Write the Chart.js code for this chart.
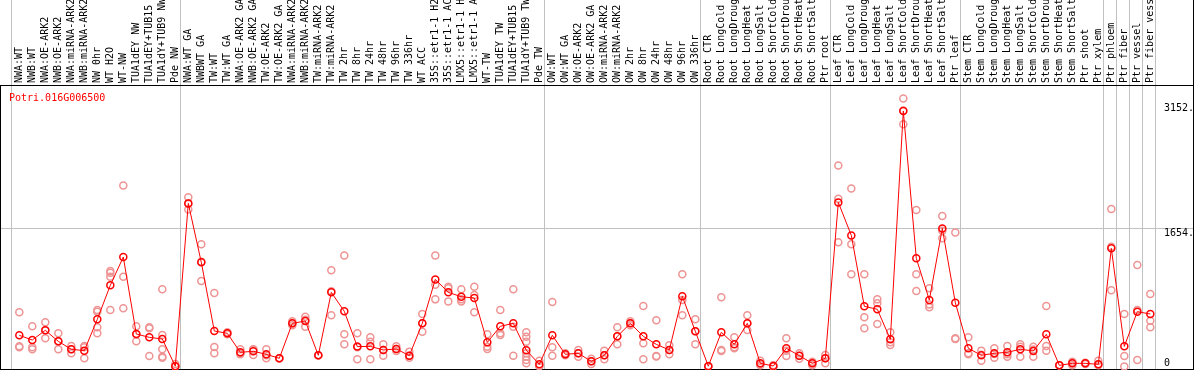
<!DOCTYPE html>
<html>
<head>
<meta charset="utf-8">
<script src="https://cdn.jsdelivr.net/npm/chart.js@4.4.0/dist/chart.umd.min.js"></script>
<style>
  html, body { margin: 0; padding: 0; background: #fff; }
  canvas { display: block; }
</style>
</head>
<body>
<canvas id="expr" width="1194" height="370"></canvas>
<script>
const geneName = 'Potri.016G006500';

const categories = [
  'NWA:WT', 'NWB:WT', 'NWA:OE-ARK2', 'NWB:OE-ARK2', 'NWA:miRNA-ARK2', 'NWB:miRNA-ARK2', 'NW 0hr', 'WT H2O', 'WT-NW',
  'TUA1dEY NW', 'TUA1dEY+TUB15 NW', 'TUA1dY+TUB9 NW', 'Pde NW',
  'NWA:WT GA', 'NWBWT GA', 'TW:WT', 'TW:WT GA', 'NWA:OE-ARK2 GA', 'NWB:OE-ARK2 GA', 'TW:OE-ARK2', 'TW:OE-ARK2 GA',
  'NWA:miRNA-ARK2 GA', 'NWB:miRNA-ARK2 GA', 'TW:miRNA-ARK2', 'TW:miRNA-ARK2 GA', 'TW 2hr', 'TW 8hr', 'TW 24hr', 'TW 48hr',
  'TW 96hr', 'TW 336hr', 'WT ACC', '35S::etr1-1 H2O', '35S::etr1-1 ACC', 'LMX5::etr1-1 H2O', 'LMX5::etr1-1 ACC', 'WT-TW',
  'TUA1dEY TW', 'TUA1dEY+TUB15 TW', 'TUA1dY+TUB9 TW', 'Pde TW',
  'OW:WT', 'OW:WT GA', 'OW:OE-ARK2', 'OW:OE-ARK2 GA', 'OW:miRNA-ARK2', 'OW:miRNA-ARK2 GA', 'OW 2hr', 'OW 8hr', 'OW 24hr',
  'OW 48hr', 'OW 96hr', 'OW 336hr',
  'Root CTR', 'Root LongCold', 'Root LongDrought', 'Root LongHeat', 'Root LongSalt', 'Root ShortCold', 'Root ShortDrought',
  'Root ShortHeat', 'Root ShortSalt', 'Ptr root',
  'Leaf CTR', 'Leaf LongCold', 'Leaf LongDrought', 'Leaf LongHeat', 'Leaf LongSalt', 'Leaf ShortCold', 'Leaf ShortDrought',
  'Leaf ShortHeat', 'Leaf ShortSalt', 'Ptr leaf',
  'Stem CTR', 'Stem LongCold', 'Stem LongDrought', 'Stem LongHeat', 'Stem LongSalt', 'Stem ShortCold', 'Stem ShortDrought',
  'Stem ShortHeat', 'Stem ShortSalt', 'Ptr shoot', 'Ptr xylem', 'Ptr phloem', 'Ptr fiber', 'Ptr vessel', 'Ptr fiber vessel'
];

// mean expression per sample
const meanValues = [
  374, 318, 434, 302, 207, 191, 565, 972, 1310, 390, 350, 330, 5,
  1952, 1247, 426, 398, 171, 183, 147, 99, 517, 545, 135, 888, 661, 239, 242, 199, 211, 131, 517, 1043, 888, 836, 820, 290, 482, 517, 195, 27,
  374, 147, 159, 63, 135, 362, 517, 362, 266, 199, 840, 422,
  5, 410, 266, 517, 39, 7, 219, 131, 39, 99,
  1964, 1569, 721, 685, 326, 3056, 1295, 796, 1653, 764,
  219, 135, 159, 171, 207, 187, 386, 15, 39, 39, 27, 1414, 242, 657, 629
];

// single replicates per sample
const replicateValues = [
  [649, 230, 243], [482, 230, 207], [529, 338, 434], [398, 207, 302], [246, 159, 207], [230, 99, 246],
  [677, 657, 470, 398], [1143, 1123, 1075, 677], [2167, 1075, 697], [482, 302, 386], [470, 458, 127],
  [924, 378, 207, 119, 107], [5, 31, 0],
  [2024, 1880, 1952], [1462, 1024, 1255], [880, 234, 159], [410, 386, 398], [207, 159, 147], [207, 139, 203],
  [207, 99, 135], [99, 99, 99], [541, 494, 517], [597, 478, 560], [135, 135, 135], [1151, 613, 900],
  [1330, 386, 266], [398, 87, 232], [350, 298, 87], [266, 131, 199], [242, 187, 211], [179, 107, 131],
  [629, 418, 517], [1330, 980, 804], [956, 936, 780], [924, 804, 780], [956, 856, 649], [386, 238, 211],
  [677, 398, 378], [924, 478, 131], [410, 358, 298, 159, 119, 79, 39], [71, 7, 5],
  [772, 230, 131], [159, 135, 147], [199, 119, 159], [95, 31, 63], [191, 87, 135], [470, 266, 362],
  [541, 494, 517], [725, 278, 87], [553, 127, 120], [254, 147, 199], [1103, 796, 613], [565, 266, 422],
  [7, 5, 5], [828, 199, 187], [350, 230, 219], [613, 438, 517], [71, 31, 15], [15, 5, 0], [338, 127, 191],
  [159, 95, 131], [59, 15, 39], [139, 39, 99],
  [2406, 2008, 1486], [2131, 1462, 1103], [1103, 589, 458], [804, 757, 509], [410, 290, 258],
  [3207, 2897, 3064], [1872, 1103, 904], [936, 709, 744], [1801, 1534, 1624], [1605, 338, 330],
  [350, 159, 148], [191, 71, 143], [219, 107, 151], [246, 119, 148], [266, 119, 236], [238, 119, 204],
  [725, 246, 191], [15, 15, 15], [59, 15, 39], [47, 39, 31],
  [71, 15, 27], [1884, 1434, 912], [629, 127, 0], [1215, 79, 677], [868, 549, 470]
];

// last sample index of every group (separator drawn just after it)
const groupEnds = [-1, 12, 40, 52, 62, 72, 83, 84, 85, 86, 87];
const yTickValues = [0, 1654, 3152];
const yTickLabels = ['0', '1654.', '3152.'];
const yGridValues = [1654];

const monoFont = "'DejaVu Sans Mono', monospace";

const meanPoints = meanValues.map((v, i) => ({ x: i, y: v }));
const repPoints = [];
replicateValues.forEach((reps, i) => reps.forEach(v => repPoints.push({ x: i, y: v })));

// frame, separators, value labels and gene name
const decorations = {
  id: 'decorations',
  beforeDraw(chart) {
    const { ctx, chartArea: a, scales: { x, y } } = chart;
    ctx.save();
    ctx.fillStyle = '#c0c0c0';
    groupEnds.forEach(k => {
      const px = Math.floor(x.getPixelForValue(k + 0.4));
      ctx.fillRect(px, 0, 1, a.bottom);
    });
    yGridValues.forEach(v => {
      const py = Math.floor(y.getPixelForValue(v));
      ctx.fillRect(0, py, chart.width, 1);
    });
    ctx.fillStyle = '#000';
    ctx.fillRect(0, a.top - 1, chart.width, 1);
    ctx.fillRect(0, a.top, 1, a.bottom - a.top);
    ctx.fillRect(chart.width - 1, 0, 1, chart.height);
    ctx.fillRect(0, a.bottom - 1, chart.width, 1);
    ctx.restore();
  },
  afterDatasetsDraw(chart) {
    const { ctx, chartArea: a, scales: { y } } = chart;
    ctx.save();
    ctx.font = "10px " + monoFont;
    ctx.textAlign = 'left';
    ctx.textBaseline = 'alphabetic';
    ctx.fillStyle = '#000';
    yTickValues.forEach((v, i) => {
      const py = Math.min(Math.round(y.getPixelForValue(v)) + 8, a.bottom - 4.5);
      ctx.fillText(yTickLabels[i], a.right - 30, py);
    });
    ctx.fillStyle = '#ff0000';
    ctx.fillText(geneName, a.left + 9, a.top + 14.5);
    ctx.restore();
  }
};

new Chart(document.getElementById('expr'), {
  type: 'line',
  data: {
    datasets: [
      {
        label: 'mean',
        data: meanPoints,
        borderColor: '#ff0000',
        borderWidth: 1,
        tension: 0,
        pointRadius: 3.5,
        pointBorderWidth: 1.5,
        pointBorderColor: '#ff0000',
        pointBackgroundColor: 'rgba(0,0,0,0)'
      },
      {
        type: 'scatter',
        label: 'replicates',
        data: repPoints,
        showLine: false,
        pointRadius: 3.5,
        pointBorderWidth: 1.5,
        pointBorderColor: '#ee9494',
        pointBackgroundColor: 'rgba(0,0,0,0)'
      }
    ]
  },
  options: {
    responsive: false,
    animation: false,
    devicePixelRatio: 1,
    layout: { padding: 0, autoPadding: false },
    plugins: { legend: { display: false }, tooltip: { enabled: false }, title: { display: false } },
    events: [],
    scales: {
      x: {
        type: 'linear',
        position: 'top',
        bounds: 'data',
        min: -1.485,
        max: 90.36,
        afterBuildTicks: scale => { scale.ticks = categories.map((c, i) => ({ value: i })); },
        afterFit: scale => {
          scale.height = 86;
          scale.paddingLeft = 0;
          scale.paddingRight = 0;
        },
        grid: { display: false, drawTicks: false },
        border: { display: false },
        ticks: {
          autoSkip: false,
          minRotation: 90,
          maxRotation: 90,
          padding: 3,
          labelOffset: 12,
          color: '#000',
          font: { family: monoFont, size: 10 },
          callback: v => categories[v]
        }
      },
      y: {
        type: 'linear',
        display: false,
        bounds: 'data',
        min: -40.7,
        max: 3355.8
      }
    }
  },
  plugins: [decorations]
});
</script>
</body>
</html>
